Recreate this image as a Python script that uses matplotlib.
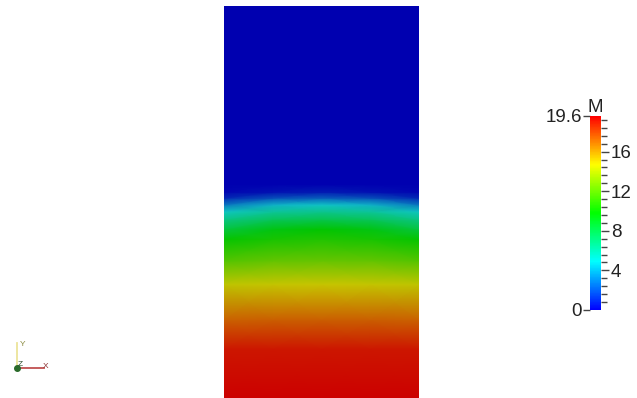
import numpy as np
import matplotlib
matplotlib.use("Agg")
import matplotlib.pyplot as plt
from matplotlib.colors import LinearSegmentedColormap, Normalize
from matplotlib.cm import ScalarMappable

plt.rcParams["font.family"] = ["Liberation Sans", "DejaVu Sans"]

# field values M, sampled on columns across the slab and rows up its height
x_cols = [0.0, 0.25, 0.5, 0.75, 1.0]
heights = [0.0, 0.25, 0.40, 0.58, 0.70, 0.81, 0.86, 0.91, 0.95, 0.985, 1.02, 1.05, 1.09, 2.0]
m_edge = [19.6, 19.0, 17.1, 14.4, 11.8, 9.9, 8.3, 6.6, 5.1, 3.0, 1.0, 0.2, 0.0, 0.0]
m_quarter = [19.6, 19.0, 17.2, 14.6, 12.2, 10.4, 9.4, 7.6, 6.1, 4.5, 2.0, 0.5, 0.0, 0.0]
m_center = [19.6, 19.0, 17.2, 14.7, 12.3, 10.6, 9.8, 7.9, 6.4, 5.0, 2.4, 0.7, 0.0, 0.0]

m_min, m_max = 0.0, 19.6
major_ticks = [4, 8, 12, 16]
minor_step = 0.8

rainbow = ["#0000ff", "#00ffff", "#00ff00", "#ffff00", "#ff0000"]
cmap_bar = LinearSegmentedColormap.from_list("bluered", rainbow)
lit = ["#0000b0", "#10c4c8", "#00c400", "#c8c400", "#cc0000"]
cmap_field = LinearSegmentedColormap.from_list("bluered_lit", lit)
norm = Normalize(m_min, m_max)

fig = plt.figure(figsize=(6.37, 3.98), dpi=100)
W, H = 637, 398

# slab
ax = fig.add_axes([224 / W, 0, 195 / W, 392 / H])
X, Y = np.meshgrid(x_cols, heights)
C = np.column_stack([m_edge, m_quarter, m_center, m_quarter, m_edge])
ax.pcolormesh(X, Y, C, cmap=cmap_field, norm=norm, shading="gouraud")
ax.set_xlim(0, 1)
ax.set_ylim(0, 2)
ax.axis("off")

# colour bar
cax = fig.add_axes([590 / W, (H - 310) / H, 11 / W, 194 / H])
cb = fig.colorbar(ScalarMappable(norm=norm, cmap=cmap_bar), cax=cax)
cb.outline.set_visible(False)
cax.yaxis.set_ticks_position("right")
cax.set_yticks(major_ticks)
cax.set_yticklabels([str(t) for t in major_ticks])
cax.set_yticks(np.arange(minor_step, m_max, minor_step), minor=True)
cax.tick_params(which="major", length=6, width=1, color="#444444",
                labelsize=13.5, labelcolor="#222222", pad=1)
cax.tick_params(which="minor", length=4, width=1, color="#444444")
left = cax.secondary_yaxis("left")
left.set_yticks([m_min, m_max])
left.set_yticklabels(["0", "19.6"])
left.tick_params(length=5, width=1, color="#444444", labelsize=13.5,
                 labelcolor="#222222", pad=1)
left.spines["left"].set_visible(False)
cax.set_title("M", fontsize=13.5, color="#222222", pad=3)

# orientation triad
tri = fig.add_axes([0, 0, 1, 1], zorder=-1)
tri.set_xlim(0, W)
tri.set_ylim(H, 0)
tri.axis("off")
tri.plot([17, 17], [368, 343], color="#ece49a", lw=1.3)
tri.plot([17, 44], [368, 368], color="#c05050", lw=1.3)
tri.plot([17], [368], "o", color="#2a6a2a", ms=4)
tri.text(20, 345, "Y", fontsize=6, color="#8a8a40", va="center")
tri.text(43, 366, "X", fontsize=6, color="#8a3030", va="center")
tri.text(18, 364, "Z", fontsize=6, color="#2a4a2a", va="center")

fig.savefig("out.png", dpi=100)
